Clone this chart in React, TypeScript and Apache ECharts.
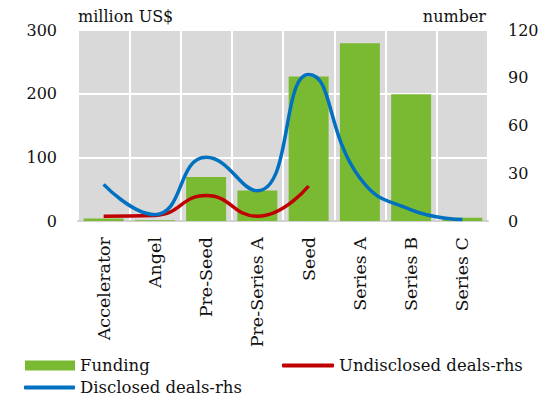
import React, { useEffect, useRef } from "react";
import * as echarts from "echarts";

const categories = ["Accelerator", "Angel", "Pre-Seed", "Pre-Series A", "Seed", "Series A", "Series B", "Series C"];
const funding = [4, 1, 69, 48, 227, 279, 199, 5];
const disclosedDeals = [23, 4, 40, 19, 92, 27, 7, 1];
const undisclosedDeals = [3, 3.5, 16, 3, 22, null, null, null];
const leftTicks = { min: 0, max: 300, interval: 100 };
const rightTicks = { min: 0, max: 120, interval: 30 };

const FONT = "DejaVu Serif";
const GREEN = "#7ab932";
const BLUE = "#0070c0";
const RED = "#c00000";

export default function App() {
  const ref = useRef<HTMLDivElement>(null);
  useEffect(() => {
    if (!ref.current) return;
    const chart = echarts.init(ref.current, null, { renderer: "svg" });
    const textStyle = { fontFamily: FONT, fontSize: 16, color: "#111" };
    const legendText = { ...textStyle, fontSize: 16.5 };
    chart.setOption({
      animation: false,
      textStyle: { fontFamily: FONT },
      grid: {
        left: 78,
        right: 55,
        top: 30,
        bottom: 177,
        show: true,
        backgroundColor: "#d9d9d9",
        borderWidth: 0,
      },
      legend: [
        {
          data: [{ name: "Funding", icon: "rect" }],
          left: 20,
          top: 352,
          itemWidth: 50,
          itemHeight: 10,
          itemGap: 4,
          textStyle: legendText,
        },
        {
          data: [{ name: "Undisclosed deals-rhs", icon: "roundRect" }],
          left: 277,
          top: 352,
          itemWidth: 52,
          itemHeight: 4,
          textStyle: legendText,
        },
        {
          data: [{ name: "Disclosed deals-rhs", icon: "roundRect" }],
          left: 19,
          top: 374,
          itemWidth: 51,
          itemHeight: 4,
          textStyle: legendText,
        },
      ],
      xAxis: {
        type: "category",
        data: categories,
        axisLine: { show: true, lineStyle: { color: "#d0d0d0", width: 2 } },
        axisTick: { show: false },
        axisLabel: { ...textStyle, fontSize: 17.5, rotate: 90, margin: 16 },
        splitLine: { show: true, lineStyle: { color: "#ffffff", width: 2 } },
      },
      yAxis: [
        {
          type: "value",
          ...leftTicks,
          name: "million US$",
          nameLocation: "end",
          nameGap: 6,
          nameTextStyle: { ...textStyle, align: "left" },
          axisLine: { show: false },
          axisTick: { show: false },
          axisLabel: { ...textStyle, margin: 21 },
          splitLine: { show: true, lineStyle: { color: "#ffffff", width: 2 } },
        },
        {
          type: "value",
          ...rightTicks,
          name: "number",
          nameLocation: "end",
          nameGap: 6,
          nameTextStyle: { ...textStyle, align: "right", padding: [0, 2, 0, 0] },
          axisLine: { show: false },
          axisTick: { show: false },
          axisLabel: { ...textStyle, margin: 20 },
          splitLine: { show: false },
        },
      ],
      series: [
        {
          name: "Funding",
          type: "bar",
          data: funding,
          yAxisIndex: 0,
          barCategoryGap: "22%",
          itemStyle: { color: GREEN },
          z: 1,
        },
        {
          name: "Undisclosed deals-rhs",
          type: "line",
          data: undisclosedDeals,
          yAxisIndex: 1,
          smooth: 0.5,
          showSymbol: false,
          symbol: "none",
          lineStyle: { color: RED, width: 3.5 },
          itemStyle: { color: RED },
          z: 3,
        },
        {
          name: "Disclosed deals-rhs",
          type: "line",
          data: disclosedDeals,
          yAxisIndex: 1,
          smooth: 0.5,
          showSymbol: false,
          symbol: "none",
          lineStyle: { color: BLUE, width: 3.5 },
          itemStyle: { color: BLUE },
          z: 4,
        },
      ],
    });
    return () => chart.dispose();
  }, []);
  return <div ref={ref} style={{ position: "absolute", left: 0, top: 0, width: 543, height: 398 }} />;
}
